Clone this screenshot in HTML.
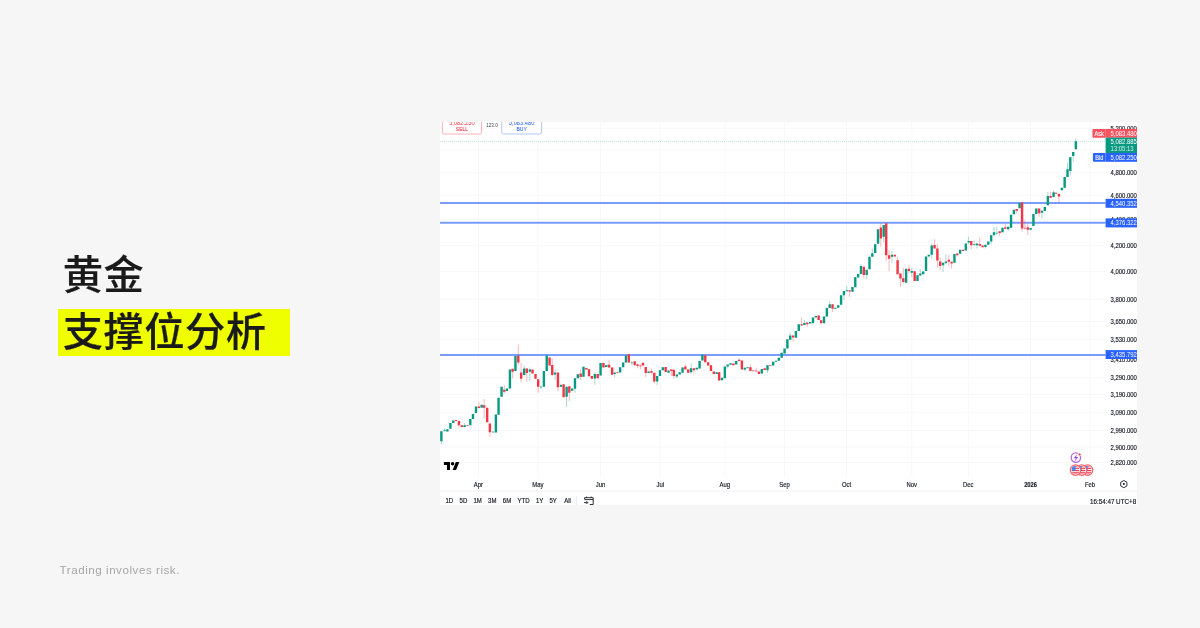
<!DOCTYPE html>
<html lang="zh-CN">
<head>
<meta charset="utf-8">
<title>黄金 支撑位分析</title>
<style>
html,body{margin:0;padding:0}
body{width:1200px;height:628px;overflow:hidden;background:#f6f6f6;position:relative;font-family:"Liberation Sans","Noto Sans CJK SC",sans-serif}
.t1,.t2{position:absolute;font-family:"Noto Sans CJK SC","Liberation Sans",sans-serif;font-weight:500;font-size:40.3px;line-height:40px;color:#1a1a1a;white-space:nowrap;margin:0;letter-spacing:0.5px;-webkit-text-stroke:0.2px #1a1a1a}
.t1{left:62.7px;top:251.6px}
.hl{position:absolute;left:58px;top:309px;width:231.5px;height:47px;background:#f0ff00}
.t2{left:62.7px;top:308.8px}
.risk{position:absolute;left:59.6px;top:563px;font-size:11.6px;line-height:14px;color:#a6a6a6;white-space:nowrap;letter-spacing:0.54px;margin:0}
.chart{position:absolute;left:440px;top:122px;width:697px;height:383px;background:#fff;overflow:hidden}
.chart svg{position:absolute;left:0;top:0;width:697px;height:383px;display:block;font-family:"Liberation Sans",sans-serif;filter:blur(0.5px)}
</style>
</head>
<body>
<h1 class="t1">黄金</h1>
<div class="hl"></div>
<h2 class="t2">支撑位分析</h2>
<p class="risk">Trading involves risk.</p>
<div class="chart">
<svg viewBox="440 122 697 383" width="697" height="383">
<g class="grid" stroke="#f8f8f9" stroke-width="1" fill="none">
<path d="M440 128.2H1105.6"/>
<path d="M440 149.8H1105.6"/>
<path d="M440 172.5H1105.6"/>
<path d="M440 195.5H1105.6"/>
<path d="M440 219.4H1105.6"/>
<path d="M440 245.3H1105.6"/>
<path d="M440 271.6H1105.6"/>
<path d="M440 299.3H1105.6"/>
<path d="M440 321.6H1105.6"/>
<path d="M440 339.6H1105.6"/>
<path d="M440 359H1105.6"/>
<path d="M440 377.7H1105.6"/>
<path d="M440 394.5H1105.6"/>
<path d="M440 412.2H1105.6"/>
<path d="M440 430.4H1105.6"/>
<path d="M440 447H1105.6"/>
<path d="M440 462.5H1105.6"/>
<path d="M478.4 122V477.5"/>
<path d="M537.8 122V477.5"/>
<path d="M600.5 122V477.5"/>
<path d="M660.2 122V477.5"/>
<path d="M724.9 122V477.5"/>
<path d="M784.5 122V477.5"/>
<path d="M846.6 122V477.5"/>
<path d="M911.8 122V477.5"/>
<path d="M968.3 122V477.5"/>
<path d="M1030.6 122V477.5"/>
<path d="M1090 122V477.5"/>
</g>
<path d="M440 141.6H1105.6" stroke="#089981" stroke-width="0.7" stroke-dasharray="1 1" opacity="0.32" fill="none"/>
<path d="M440 203H1105.6" stroke="#789cff" stroke-width="2" fill="none"/>
<path d="M440 222.8H1105.6" stroke="#789cff" stroke-width="2" fill="none"/>
<path d="M440 354.9H1105.6" stroke="#789cff" stroke-width="2" fill="none"/>
<g class="candles">
<path d="M441.37 431.14V444.52M444.55 428.13V432.14M447.39 429.13V431.47M450.4 423.11V428.63M453.24 420.6V423.11M464.62 422.78V427.29M470.3 418.93V425.28M472.98 413.91V418.93M475.99 406.39V413.08M481.67 404.72V407.73M493.04 431.56V432.56M495.89 414.41V432.47M498.56 397.69V414.75M501.57 386.82V396.86M506.92 388.49V391M509.93 369.6V388.49M515.45 355.89V370.94M524.15 365.42V375.95M529.83 367.59V381.3M541.04 386.41V389.33M543.88 370.94V386.82M546.72 355.38V370.94M555.08 369.26V380.13M560.94 384.82V386.82M566.62 386.82V406.89M572.14 388.49V390.67M574.98 378.13V392.68M577.83 374.28V378.13M583.51 366.76V376.79M594.88 371.77V385.15M600.57 363.08V375.62M606.25 365.08V367.09M614.62 372.61V377.12M620.13 367.26V372.61M623.14 362.58V367.26M625.99 355.38V362.58M631.87 361.04V365.22M648.6 371.4V373.08M657.12 376.09V385.28M659.97 370.23V376.09M662.81 367.22V370.23M668.49 370.57V372.74M676.86 374.41V378.6M679.7 372.24V374.41M682.54 367.39V372.74M691.07 363.55V373.58M696.76 367.73V369.4M699.6 361.04V368.56M702.44 354.85V360.54M716.66 372.24V373.91M722.01 377.76V380.27M724.85 366.39V378.26M727.69 364.38V368.56M730.54 363.21V364.72M736.22 361.04V364.38M744.75 367.73V371.07M747.59 367.22V368.23M761.81 368.9V373.58M767.49 365.22V372.74M773.18 361.87V365.55M776.02 360.7V361.87M778.86 357.69V360.7M781.71 352.68V357.69M784.55 348.49V353.51M787.39 339.3V348.49M790.23 332.61V339.63M795.92 330.94V337.63M798.76 324.25V330.94M804.45 320.07V325.08M810.13 322.07V323.41M812.98 317.56V325.08M815.82 315.89V317.56M824.01 316.56V323.24M826.86 308.03V316.56M829.7 301V308.03M835.38 307.69V308.86M838.23 305.18V307.69M841.07 295.15V304.85M843.91 290.97V300.17M846.76 285.95V291.3M852.44 287.12V291.81M855.28 277.26V287.12M858.13 273.91V277.59M860.97 264.21V273.91M866.66 269.73V279.26M869.5 256.81V269.35M872.34 248.44V256.81M875.18 244.26V253.13M878.03 229.21V243.76M883.71 225.03V242.59M891.91 250.95V262.66M906.12 268.85V282.73M911.81 267.68V276.87M917.49 275.2V281.05M920.33 269.35V275.54M923.18 271.52V274.36M926.02 256.47V271.02M928.86 254.8V256.47M931.71 243.43V258.48M943.08 262.66V271.86M945.92 254.3V263.16M954.45 253.96V262.66M960.13 249.78V253.8M965.82 243.43V250.45M968.66 236.74V244.26M974.08 240.23V246.09M976.92 243.58V248.6M985.45 244.75V248.6M988.29 241.57V244.75M991.14 235.22V244.41M993.98 226.86V235.22M996.82 226.86V234.38M1002.51 227.69V232.21M1008.19 226.86V231.04M1011.04 214.82V227.69M1013.88 209.8V214.31M1019.57 203.11V208.13M1030.6 228.03V229.7M1033.44 213.98V226.02M1036.29 208.46V213.98M1041.97 210.64V218.49M1044.82 207.12V210.97M1047.85 191.86V205.26M1053.58 190.48V196.94M1061.89 187.71V190.29M1064.66 177.09V187.71M1067.52 162.77V177.09M1070.29 157.23V175.24M1073.25 151.94V161.64M1075.84 138.55V149.17" stroke="#089981" stroke-width="0.8" opacity="0.45" fill="none"/>
<path d="M455.92 419.93V421.1M458.93 421.1V427.79M461.77 425.28V426.96M467.46 425.12V426.12M478.83 402.21V408.56M484.18 398.86V418.6M487.19 407.73V422.27M489.87 423.61V436.66M504.25 385.15V393.51M512.61 368.76V378.46M518.29 344.68V365.08M521.14 362.58V382.64M526.82 368.43V381.81M532.51 369.6V373.44M535.52 373.95V378.8M538.19 379.3V392.68M549.57 357.56V365.42M552.24 358.39V375.95M557.93 372.61V391.34M563.61 384.31V397.36M569.3 386.32V401.04M580.67 369.26V379.8M586.35 367.93V369.6M589.03 369.26V376.29M591.87 375.95V378.8M597.73 373.95V378.13M603.41 362.91V367.59M609.1 360.07V367.59M612.11 367.59V374.78M617.46 372.11V373.11M628.83 354.21V362.58M634.72 361.37V365.22M637.56 363.55V368.23M640.4 364.38V369.4M642.91 362.71V365.55M645.75 366.89V376.92M651.44 368.56V374.41M654.28 372.74V383.61M665.65 366.89V371.91M671.34 369.4V376.09M673.85 369.73V378.6M685.38 364.38V369.4M688.23 369.4V372.74M693.91 368.23V373.58M705.28 355.18V362.21M708.13 362.21V365.55M710.97 365.22V371.07M713.81 371.57V374.08M719.16 372.24V380.6M733.38 363.55V365.22M739.06 358.53V361.04M741.91 360.54V369.4M750.43 364.38V371.07M753.28 370.15V371.15M756.12 367.73V371.91M758.96 371.4V374.08M764.65 368.23V369.9M770.33 365.05V366.05M793.08 335.45V341.81M801.61 317.56V325.42M807.29 322.58V326.76M818.66 315.55V320.07M821.17 320.23V323.24M832.54 304.35V311.87M849.6 290.13V296.82M863.81 266.72V278.43M880.87 223.36V246.77M886.22 223.36V260.99M889.06 250.12V271.02M894.75 254.8V256.47M897.59 256.81V274.36M900.43 273.53V286.91M903.28 267.68V283.56M908.96 265.17V273.53M914.65 271.35V281.05M934.55 239.25V248.44M937.39 244.26V267.68M940.23 257.64V270.18M948.76 255.13V266M951.61 261.82V268.51M957.29 253.46V255.13M962.98 249.78V250.95M971.24 241.07V249.43M979.77 237.73V245.75M982.61 245.59V247.26M999.67 231.37V236.05M1005.35 223.51V228.86M1016.72 208.96V213.48M1022.07 202.61V231.87M1024.92 220.17V228.69M1027.76 223.51V235.22M1039.13 208.46V216.82M1050.62 191.86V197.87M1056.16 192.75V193.75M1058.93 193.99V202.95" stroke="#f23645" stroke-width="0.8" opacity="0.45" fill="none"/>
<path d="M440.17 431.14h2.4v10.03h-2.4zM446.19 429.13h2.4v2.34h-2.4zM449.2 423.11h2.4v5.52h-2.4zM452.04 420.6h2.4v2.51h-2.4zM463.42 425.28h2.4v1.67h-2.4zM469.1 418.93h2.4v6.35h-2.4zM471.78 413.91h2.4v5.02h-2.4zM474.79 406.39h2.4v6.69h-2.4zM480.47 404.72h2.4v3.01h-2.4zM494.69 414.41h2.4v18.06h-2.4zM497.36 397.69h2.4v17.06h-2.4zM500.37 386.82h2.4v10.03h-2.4zM505.72 388.49h2.4v2.51h-2.4zM508.73 369.6h2.4v18.9h-2.4zM514.25 355.89h2.4v15.05h-2.4zM522.95 368.43h2.4v6.69h-2.4zM528.63 369.6h2.4v2.17h-2.4zM542.68 370.94h2.4v15.89h-2.4zM545.52 355.38h2.4v15.55h-2.4zM553.88 372.61h2.4v2.01h-2.4zM559.74 384.82h2.4v2.01h-2.4zM565.42 386.82h2.4v10.03h-2.4zM570.94 388.49h2.4v2.17h-2.4zM573.78 378.13h2.4v10.7h-2.4zM576.63 374.28h2.4v3.85h-2.4zM582.31 366.76h2.4v10.03h-2.4zM593.68 373.95h2.4v4.52h-2.4zM599.37 363.08h2.4v12.54h-2.4zM605.05 365.08h2.4v2.01h-2.4zM613.42 372.61h2.4v1.34h-2.4zM618.93 367.26h2.4v5.35h-2.4zM621.94 362.58h2.4v4.68h-2.4zM624.79 355.38h2.4v7.19h-2.4zM647.4 371.4h2.4v1.67h-2.4zM655.92 376.09h2.4v5.35h-2.4zM658.77 370.23h2.4v5.85h-2.4zM661.61 367.22h2.4v3.01h-2.4zM667.29 370.57h2.4v2.17h-2.4zM675.66 374.41h2.4v2.17h-2.4zM678.5 372.24h2.4v2.17h-2.4zM681.34 367.39h2.4v5.35h-2.4zM689.87 368.23h2.4v4.01h-2.4zM695.56 367.73h2.4v1.67h-2.4zM698.4 361.04h2.4v7.53h-2.4zM701.24 354.85h2.4v5.69h-2.4zM715.46 372.24h2.4v1.67h-2.4zM720.81 377.76h2.4v2.51h-2.4zM723.65 366.39h2.4v11.87h-2.4zM726.49 364.38h2.4v2.01h-2.4zM729.34 363.21h2.4v1.51h-2.4zM735.02 361.04h2.4v3.34h-2.4zM743.55 367.73h2.4v1.67h-2.4zM746.39 367.22h2.4v1h-2.4zM760.61 368.9h2.4v4.68h-2.4zM766.29 365.22h2.4v5.02h-2.4zM771.98 361.87h2.4v3.68h-2.4zM774.82 360.7h2.4v1.17h-2.4zM777.66 357.69h2.4v3.01h-2.4zM780.51 352.68h2.4v5.02h-2.4zM783.35 348.49h2.4v5.02h-2.4zM786.19 339.3h2.4v9.2h-2.4zM789.03 335.45h2.4v4.18h-2.4zM794.72 330.94h2.4v6.69h-2.4zM797.56 324.25h2.4v6.69h-2.4zM803.25 322.91h2.4v2.17h-2.4zM808.93 322.07h2.4v1.34h-2.4zM811.78 317.56h2.4v5.35h-2.4zM814.62 315.89h2.4v1.67h-2.4zM822.81 316.56h2.4v6.69h-2.4zM825.66 308.03h2.4v8.53h-2.4zM828.5 304.35h2.4v3.68h-2.4zM834.18 307.69h2.4v1.17h-2.4zM837.03 305.18h2.4v2.51h-2.4zM839.87 295.15h2.4v9.7h-2.4zM842.71 290.97h2.4v4.18h-2.4zM845.56 290.13h2.4v1.17h-2.4zM851.24 287.12h2.4v4.68h-2.4zM854.08 277.26h2.4v9.87h-2.4zM856.93 273.91h2.4v3.68h-2.4zM859.77 265.89h2.4v8.03h-2.4zM865.46 269.73h2.4v5.35h-2.4zM868.3 256.81h2.4v12.54h-2.4zM871.14 253.13h2.4v3.68h-2.4zM873.98 244.26h2.4v8.86h-2.4zM876.83 229.21h2.4v14.55h-2.4zM882.51 225.03h2.4v11.71h-2.4zM890.71 254.8h2.4v2.01h-2.4zM904.92 268.85h2.4v13.88h-2.4zM910.61 271.02h2.4v1.67h-2.4zM916.29 275.2h2.4v5.85h-2.4zM919.13 273.53h2.4v2.01h-2.4zM921.98 271.52h2.4v2.84h-2.4zM924.82 256.47h2.4v14.55h-2.4zM927.66 254.8h2.4v1.67h-2.4zM930.51 245.6h2.4v9.2h-2.4zM941.88 262.66h2.4v2.51h-2.4zM944.72 261.49h2.4v1.67h-2.4zM953.25 253.96h2.4v8.7h-2.4zM958.93 249.78h2.4v4.01h-2.4zM964.62 243.43h2.4v7.02h-2.4zM967.46 240.92h2.4v1.67h-2.4zM975.72 243.58h2.4v1.67h-2.4zM984.25 244.75h2.4v2.17h-2.4zM987.09 241.57h2.4v3.18h-2.4zM989.94 235.22h2.4v6.35h-2.4zM992.78 232.37h2.4v2.84h-2.4zM1001.31 227.69h2.4v4.52h-2.4zM1006.99 226.86h2.4v2.51h-2.4zM1009.84 214.82h2.4v12.88h-2.4zM1012.68 209.8h2.4v4.52h-2.4zM1018.37 203.11h2.4v5.02h-2.4zM1029.4 228.03h2.4v1.67h-2.4zM1032.24 213.98h2.4v12.04h-2.4zM1035.09 208.46h2.4v5.52h-2.4zM1040.77 210.64h2.4v2.01h-2.4zM1043.62 207.12h2.4v3.85h-2.4zM1046.65 196.02h2.4v9.24h-2.4zM1052.38 192.33h2.4v4.62h-2.4zM1060.69 187.71h2.4v2.59h-2.4zM1063.46 177.09h2.4v10.62h-2.4zM1066.32 169.24h2.4v7.85h-2.4zM1069.09 157.23h2.4v13.67h-2.4zM1072.05 151.94h2.4v4.16h-2.4zM1074.64 141.32h2.4v7.85h-2.4z" fill="#089981"/>
<path d="M454.72 419.93h2.4v1.17h-2.4zM457.73 421.1h2.4v4.18h-2.4zM460.57 425.28h2.4v1.67h-2.4zM477.63 406.39h2.4v1.67h-2.4zM482.98 405.22h2.4v2.51h-2.4zM485.99 407.73h2.4v14.55h-2.4zM488.67 423.61h2.4v8.7h-2.4zM503.05 389.67h2.4v2.17h-2.4zM511.41 368.76h2.4v3.01h-2.4zM517.09 355.38h2.4v7.19h-2.4zM519.94 372.61h2.4v6.19h-2.4zM525.62 368.43h2.4v4.52h-2.4zM531.31 369.6h2.4v3.85h-2.4zM534.32 373.95h2.4v4.85h-2.4zM536.99 379.3h2.4v7.53h-2.4zM548.37 357.56h2.4v7.86h-2.4zM551.04 365.08h2.4v10.03h-2.4zM556.73 372.61h2.4v14.55h-2.4zM562.41 384.31h2.4v13.04h-2.4zM568.1 386.32h2.4v6.35h-2.4zM579.47 373.44h2.4v3.68h-2.4zM585.15 367.93h2.4v1.67h-2.4zM587.83 369.26h2.4v7.02h-2.4zM590.67 375.95h2.4v2.84h-2.4zM596.53 373.95h2.4v4.18h-2.4zM602.21 362.91h2.4v4.68h-2.4zM607.9 364.75h2.4v2.84h-2.4zM610.91 367.59h2.4v7.19h-2.4zM627.63 354.21h2.4v8.36h-2.4zM633.52 361.37h2.4v3.85h-2.4zM636.36 364.38h2.4v1.67h-2.4zM641.71 362.71h2.4v2.84h-2.4zM644.55 366.89h2.4v6.19h-2.4zM650.24 371.07h2.4v1.67h-2.4zM653.08 372.74h2.4v8.7h-2.4zM664.45 366.89h2.4v5.02h-2.4zM670.14 369.4h2.4v1.67h-2.4zM672.65 369.73h2.4v6.35h-2.4zM684.18 366.56h2.4v2.84h-2.4zM687.03 369.4h2.4v3.34h-2.4zM692.71 368.23h2.4v2.01h-2.4zM704.08 355.18h2.4v7.02h-2.4zM706.93 362.21h2.4v3.34h-2.4zM709.77 365.22h2.4v5.85h-2.4zM712.61 371.57h2.4v2.51h-2.4zM717.96 372.24h2.4v8.36h-2.4zM732.18 363.55h2.4v1.67h-2.4zM737.86 359.87h2.4v1.17h-2.4zM740.71 360.54h2.4v8.86h-2.4zM749.23 367.22h2.4v3.85h-2.4zM757.76 371.4h2.4v2.68h-2.4zM763.45 368.23h2.4v1.67h-2.4zM791.88 335.45h2.4v2.17h-2.4zM800.41 324.25h2.4v1.17h-2.4zM806.09 322.58h2.4v1.67h-2.4zM817.46 315.55h2.4v4.52h-2.4zM819.97 320.23h2.4v3.01h-2.4zM831.34 304.35h2.4v4.52h-2.4zM848.4 290.13h2.4v1.34h-2.4zM862.61 266.72h2.4v8.36h-2.4zM879.67 227.54h2.4v10.87h-2.4zM885.02 223.36h2.4v31.77h-2.4zM887.86 255.13h2.4v3.68h-2.4zM893.55 254.8h2.4v1.67h-2.4zM896.39 260.15h2.4v14.21h-2.4zM899.23 273.53h2.4v5.02h-2.4zM902.08 278.21h2.4v3.68h-2.4zM907.76 268.85h2.4v2.17h-2.4zM913.45 271.35h2.4v9.7h-2.4zM933.35 245.1h2.4v3.34h-2.4zM936.19 248.44h2.4v12.04h-2.4zM939.03 261.49h2.4v4.52h-2.4zM947.56 259.82h2.4v2.01h-2.4zM950.41 261.82h2.4v1.67h-2.4zM956.09 253.46h2.4v1.67h-2.4zM961.78 249.78h2.4v1.17h-2.4zM970.04 241.07h2.4v4.18h-2.4zM978.57 244.08h2.4v1.67h-2.4zM981.41 245.59h2.4v1.67h-2.4zM998.47 231.37h2.4v1.67h-2.4zM1004.15 227.36h2.4v1.51h-2.4zM1015.52 208.96h2.4v1.67h-2.4zM1020.87 202.61h2.4v25.92h-2.4zM1026.56 227.19h2.4v2.68h-2.4zM1037.93 208.46h2.4v4.68h-2.4zM1049.42 196.02h2.4v1.85h-2.4zM1054.96 192.75h2.4v1h-2.4zM1057.73 193.99h2.4v2.49h-2.4z" fill="#f23645"/>
<path d="M443.35 430.05h2.4v1h-2.4zM491.84 431.56h2.4v1h-2.4zM539.84 386.41h2.4v1h-2.4zM630.67 362.21h2.4v1h-2.4zM972.88 243.91h2.4v1h-2.4zM995.62 232.71h2.4v1h-2.4z" fill="#089981" opacity="0.7"/>
<path d="M466.26 425.12h2.4v1h-2.4zM616.26 372.11h2.4v1h-2.4zM639.2 365.55h2.4v1h-2.4zM752.08 370.15h2.4v1h-2.4zM754.92 370.57h2.4v1h-2.4zM769.13 365.05h2.4v1h-2.4zM1023.72 227.69h2.4v1h-2.4z" fill="#f23645" opacity="0.7"/>
</g>
<g class="axis">
<text transform="translate(1110.6 130.8) scale(0.8 1)" font-size="7.4" text-anchor="start" fill="#131722" stroke="#131722" stroke-width="0.16">5,200.000</text>
<text transform="translate(1110.6 152.4) scale(0.8 1)" font-size="7.4" text-anchor="start" fill="#131722" stroke="#131722" stroke-width="0.16">5,000.000</text>
<text transform="translate(1110.6 175.1) scale(0.8 1)" font-size="7.4" text-anchor="start" fill="#131722" stroke="#131722" stroke-width="0.16">4,800.000</text>
<text transform="translate(1110.6 198.1) scale(0.8 1)" font-size="7.4" text-anchor="start" fill="#131722" stroke="#131722" stroke-width="0.16">4,600.000</text>
<text transform="translate(1110.6 222) scale(0.8 1)" font-size="7.4" text-anchor="start" fill="#131722" stroke="#131722" stroke-width="0.16">4,400.000</text>
<text transform="translate(1110.6 247.9) scale(0.8 1)" font-size="7.4" text-anchor="start" fill="#131722" stroke="#131722" stroke-width="0.16">4,200.000</text>
<text transform="translate(1110.6 274.2) scale(0.8 1)" font-size="7.4" text-anchor="start" fill="#131722" stroke="#131722" stroke-width="0.16">4,000.000</text>
<text transform="translate(1110.6 301.9) scale(0.8 1)" font-size="7.4" text-anchor="start" fill="#131722" stroke="#131722" stroke-width="0.16">3,800.000</text>
<text transform="translate(1110.6 324.2) scale(0.8 1)" font-size="7.4" text-anchor="start" fill="#131722" stroke="#131722" stroke-width="0.16">3,650.000</text>
<text transform="translate(1110.6 342.2) scale(0.8 1)" font-size="7.4" text-anchor="start" fill="#131722" stroke="#131722" stroke-width="0.16">3,530.000</text>
<text transform="translate(1110.6 361.6) scale(0.8 1)" font-size="7.4" text-anchor="start" fill="#131722" stroke="#131722" stroke-width="0.16">3,410.000</text>
<text transform="translate(1110.6 380.3) scale(0.8 1)" font-size="7.4" text-anchor="start" fill="#131722" stroke="#131722" stroke-width="0.16">3,290.000</text>
<text transform="translate(1110.6 397.1) scale(0.8 1)" font-size="7.4" text-anchor="start" fill="#131722" stroke="#131722" stroke-width="0.16">3,190.000</text>
<text transform="translate(1110.6 414.8) scale(0.8 1)" font-size="7.4" text-anchor="start" fill="#131722" stroke="#131722" stroke-width="0.16">3,090.000</text>
<text transform="translate(1110.6 433) scale(0.8 1)" font-size="7.4" text-anchor="start" fill="#131722" stroke="#131722" stroke-width="0.16">2,990.000</text>
<text transform="translate(1110.6 449.6) scale(0.8 1)" font-size="7.4" text-anchor="start" fill="#131722" stroke="#131722" stroke-width="0.16">2,900.000</text>
<text transform="translate(1110.6 465.1) scale(0.8 1)" font-size="7.4" text-anchor="start" fill="#131722" stroke="#131722" stroke-width="0.16">2,820.000</text>
</g>
<g class="tags">
<rect x="1105.6" y="198.8" width="33.4" height="9" fill="#2962ff"/>
<text transform="translate(1110.6 205.8) scale(0.8 1)" font-size="7.4" text-anchor="start" fill="#fff">4,540.352</text>
<rect x="1105.6" y="218.4" width="33.4" height="9" fill="#2962ff"/>
<text transform="translate(1110.6 225.4) scale(0.8 1)" font-size="7.4" text-anchor="start" fill="#fff">4,376.322</text>
<rect x="1105.6" y="350.1" width="33.4" height="8.9" fill="#2962ff"/>
<text transform="translate(1110.6 357.05) scale(0.8 1)" font-size="7.4" text-anchor="start" fill="#fff">3,435.792</text>
<rect x="1092.4" y="128.9" width="13.6" height="8.8" rx="1" fill="#f7525f"/>
<text transform="translate(1099.2 135.7) scale(0.85 1)" font-size="6.6" text-anchor="middle" fill="#fff" stroke="#fff" stroke-width="0.1">Ask</text>
<rect x="1105.6" y="128.9" width="33.4" height="8.8" fill="#f7525f"/>
<text transform="translate(1110.6 135.8) scale(0.8 1)" font-size="7.4" text-anchor="start" fill="#fff">5,083.480</text>
<path d="M1105.6 129.4v7.8" stroke="#fff" stroke-width="0.4" opacity="0.5"/>
<rect x="1105.6" y="137.6" width="40" height="15.4" fill="#089981"/>
<text transform="translate(1110.6 143.9) scale(0.8 1)" font-size="7.4" text-anchor="start" fill="#fff">5,082.885</text>
<text transform="translate(1110.6 150.8) scale(0.8 1)" font-size="7.4" text-anchor="start" fill="#fff" opacity="0.85">13:05:13</text>
<rect x="1092.9" y="152.9" width="13" height="8.9" rx="1" fill="#2962ff"/>
<text transform="translate(1099.3 159.8) scale(0.85 1)" font-size="6.6" text-anchor="middle" fill="#fff" stroke="#fff" stroke-width="0.1">Bid</text>
<rect x="1105.6" y="152.9" width="33.4" height="8.9" fill="#2962ff"/>
<text transform="translate(1110.6 159.85) scale(0.8 1)" font-size="7.4" text-anchor="start" fill="#fff">5,082.250</text>
<path d="M1105.6 153.4v7.9" stroke="#fff" stroke-width="0.4" opacity="0.5"/>
</g>
<g class="buttons">
<rect x="442.4" y="116" width="39.1" height="18" rx="2" fill="#fff" stroke="#f9a9af" stroke-width="0.9"/>
<text transform="translate(461.9 124.7) scale(0.82 1)" font-size="7" text-anchor="middle" fill="#f23645">5,082.250</text>
<text transform="translate(461.9 131) scale(0.8 1)" font-size="6.2" text-anchor="middle" fill="#f23645" stroke="#f23645" stroke-width="0.1">SELL</text>
<rect x="501.7" y="116" width="39.9" height="18" rx="2" fill="#fff" stroke="#a9c0ff" stroke-width="0.9"/>
<text transform="translate(521.6 124.7) scale(0.82 1)" font-size="7" text-anchor="middle" fill="#2962ff">5,083.480</text>
<text transform="translate(521.6 131) scale(0.8 1)" font-size="6.2" text-anchor="middle" fill="#2962ff" stroke="#2962ff" stroke-width="0.1">BUY</text>
<text transform="translate(492 127.3) scale(0.85 1)" font-size="5.4" text-anchor="middle" fill="#3a3e4a">123.0</text>
</g>
<g transform="translate(443.9 460.1) scale(0.435 0.45)" fill="#000"><path d="M14 22H7V11H0V4h14v18zM28 22h-8l7.5-18h8L28 22z"/><circle cx="20" cy="8" r="4"/></g>
<g class="icons">
<circle cx="1075.9" cy="457.6" r="4.7" fill="#fff" stroke="#bb6cdc" stroke-width="1.35"/>
<path d="M1077.1 453.9l-3.4 4.3h2.1l-1.1 3.2 3.5-4.5h-2.2z" fill="#a347cf"/>
<circle cx="1079.6" cy="454.4" r="1.5" fill="#f23645" stroke="#fff" stroke-width="0.9"/>
<defs><clipPath id="fc"><circle cx="0" cy="0" r="4.1"/></clipPath></defs>
<g transform="translate(1087.6 470.1)">
<circle r="5.2" fill="#fff" stroke="#f4606c" stroke-width="1.2"/>
<g clip-path="url(#fc)"><rect x="-4" y="-4" width="8" height="8" fill="#fff"/><path d="M-4 -3.3h8M-4 -1.5h8M-4 0.4h8M-4 2.2h8M-4 3.9h8" stroke="#f23645" stroke-width="1" fill="none"/><rect x="-4" y="-4" width="4.1" height="4.6" fill="#3d8bf0"/></g>
</g>
<g transform="translate(1081.6 470.1)">
<circle r="5.2" fill="#fff" stroke="#f4606c" stroke-width="1.2"/>
<g clip-path="url(#fc)"><rect x="-4" y="-4" width="8" height="8" fill="#fff"/><path d="M-4 -3.3h8M-4 -1.5h8M-4 0.4h8M-4 2.2h8M-4 3.9h8" stroke="#f23645" stroke-width="1" fill="none"/><rect x="-4" y="-4" width="4.1" height="4.6" fill="#3d8bf0"/></g>
</g>
<g transform="translate(1075.5 470.1)">
<circle r="5.2" fill="#fff" stroke="#f4606c" stroke-width="1.2"/>
<g clip-path="url(#fc)"><rect x="-4" y="-4" width="8" height="8" fill="#fff"/><path d="M-4 -3.3h8M-4 -1.5h8M-4 0.4h8M-4 2.2h8M-4 3.9h8" stroke="#f23645" stroke-width="1" fill="none"/><rect x="-4" y="-4" width="4.1" height="4.6" fill="#3d8bf0"/></g>
</g>
</g>
<path d="M440 491H1137" stroke="#eceef2" stroke-width="0.8" fill="none"/>
<g class="time">
<text transform="translate(478.4 487) scale(0.9 1)" font-size="6.6" text-anchor="middle" fill="#131722" stroke="#131722" stroke-width="0.15">Apr</text>
<text transform="translate(537.8 487) scale(0.9 1)" font-size="6.6" text-anchor="middle" fill="#131722" stroke="#131722" stroke-width="0.15">May</text>
<text transform="translate(600.5 487) scale(0.9 1)" font-size="6.6" text-anchor="middle" fill="#131722" stroke="#131722" stroke-width="0.15">Jun</text>
<text transform="translate(660.2 487) scale(0.9 1)" font-size="6.6" text-anchor="middle" fill="#131722" stroke="#131722" stroke-width="0.15">Jul</text>
<text transform="translate(724.9 487) scale(0.9 1)" font-size="6.6" text-anchor="middle" fill="#131722" stroke="#131722" stroke-width="0.15">Aug</text>
<text transform="translate(784.5 487) scale(0.9 1)" font-size="6.6" text-anchor="middle" fill="#131722" stroke="#131722" stroke-width="0.15">Sep</text>
<text transform="translate(846.6 487) scale(0.9 1)" font-size="6.6" text-anchor="middle" fill="#131722" stroke="#131722" stroke-width="0.15">Oct</text>
<text transform="translate(911.8 487) scale(0.9 1)" font-size="6.6" text-anchor="middle" fill="#131722" stroke="#131722" stroke-width="0.15">Nov</text>
<text transform="translate(968.3 487) scale(0.9 1)" font-size="6.6" text-anchor="middle" fill="#131722" stroke="#131722" stroke-width="0.15">Dec</text>
<text transform="translate(1030.6 487) scale(0.88 1)" font-size="6.6" text-anchor="middle" fill="#131722" stroke="#131722" stroke-width="0.15" font-weight="bold">2026</text>
<text transform="translate(1090 487) scale(0.9 1)" font-size="6.6" text-anchor="middle" fill="#131722" stroke="#131722" stroke-width="0.15">Feb</text>
</g>
<path d="M1123.8 480.5l3.1 1.8v3.6l-3.1 1.8-3.1-1.8v-3.6z" fill="none" stroke="#131722" stroke-width="0.9" stroke-linejoin="round"/><circle cx="1123.8" cy="484.1" r="1" fill="#131722"/>
<g class="tb">
<text transform="translate(449.3 503.1) scale(0.84 1)" font-size="7.2" text-anchor="middle" fill="#131722" stroke="#131722" stroke-width="0.18">1D</text>
<text transform="translate(463.4 503.1) scale(0.84 1)" font-size="7.2" text-anchor="middle" fill="#131722" stroke="#131722" stroke-width="0.18">5D</text>
<text transform="translate(477.7 503.1) scale(0.84 1)" font-size="7.2" text-anchor="middle" fill="#131722" stroke="#131722" stroke-width="0.18">1M</text>
<text transform="translate(492.3 503.1) scale(0.84 1)" font-size="7.2" text-anchor="middle" fill="#131722" stroke="#131722" stroke-width="0.18">3M</text>
<text transform="translate(507 503.1) scale(0.84 1)" font-size="7.2" text-anchor="middle" fill="#131722" stroke="#131722" stroke-width="0.18">6M</text>
<text transform="translate(523.5 503.1) scale(0.84 1)" font-size="7.2" text-anchor="middle" fill="#131722" stroke="#131722" stroke-width="0.18">YTD</text>
<text transform="translate(539.6 503.1) scale(0.84 1)" font-size="7.2" text-anchor="middle" fill="#131722" stroke="#131722" stroke-width="0.18">1Y</text>
<text transform="translate(553.2 503.1) scale(0.84 1)" font-size="7.2" text-anchor="middle" fill="#131722" stroke="#131722" stroke-width="0.18">5Y</text>
<text transform="translate(567.5 503.1) scale(0.84 1)" font-size="7.2" text-anchor="middle" fill="#131722" stroke="#131722" stroke-width="0.18">All</text>
<text transform="translate(1136.2 503.6) scale(0.85 1)" font-size="7.4" text-anchor="end" fill="#131722" stroke="#131722" stroke-width="0.18">16:54:47 UTC+8</text>
</g>
<path d="M576.7 496V505" stroke="#e0e3eb" stroke-width="0.8"/>
<g fill="none" stroke="#131722" stroke-width="0.9"><path d="M584.6 499.3v-1.6h8.6v6.8h-3.4M584.6 499.6h8.6M586.6 496.6v1.2M591.2 496.6v1.2M584 502.6h3.6M586.4 501.2l1.4 1.4-1.4 1.4"/></g>
</svg>
</div>
</body>
</html>
